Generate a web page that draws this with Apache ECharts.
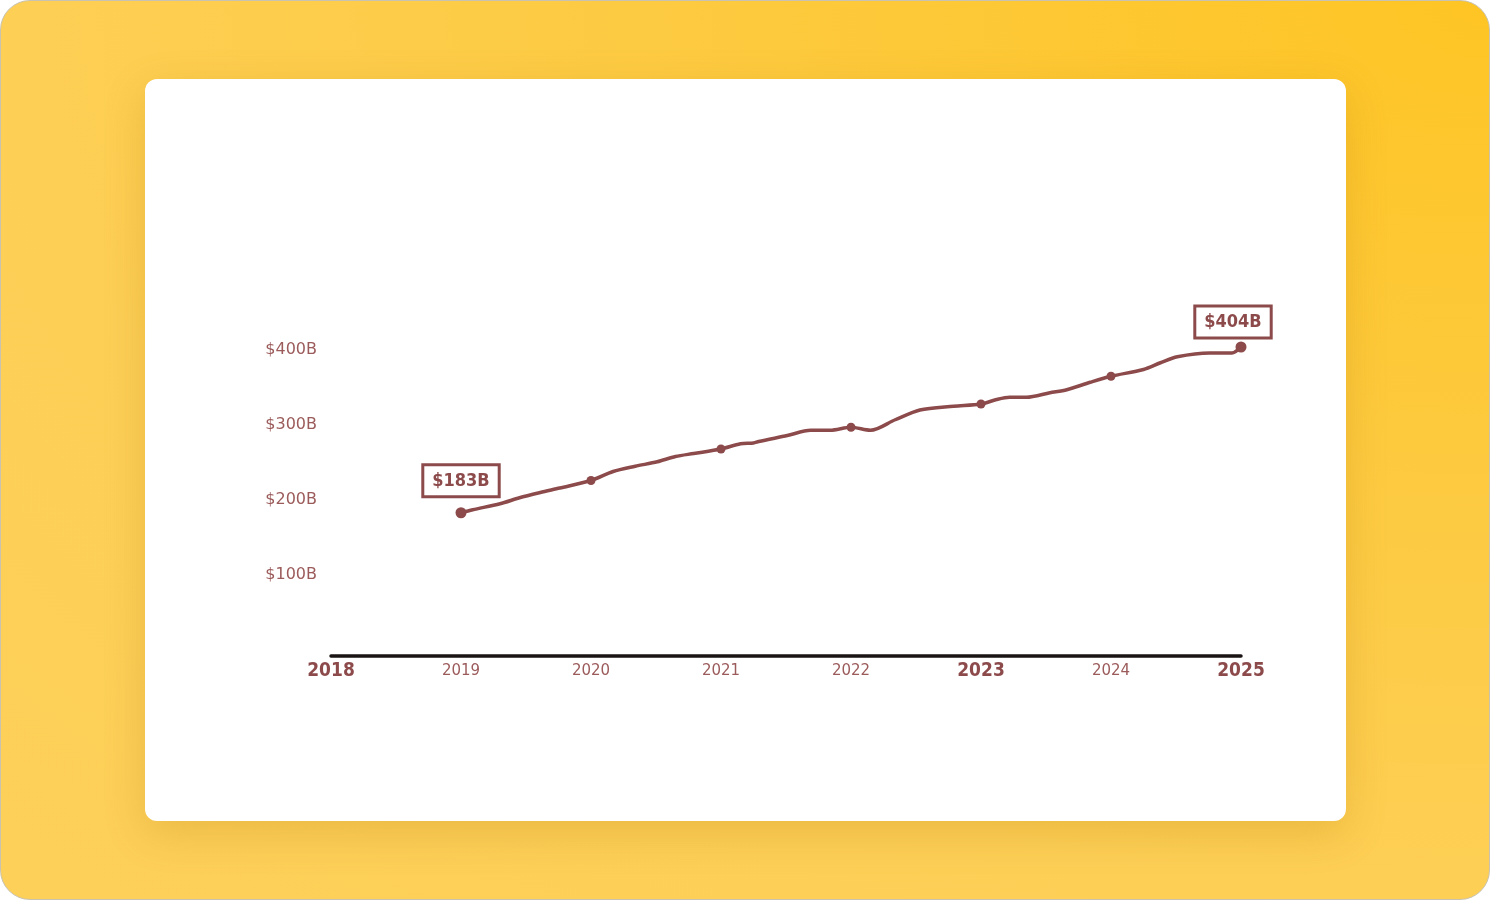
<!DOCTYPE html>
<html>
<head>
<meta charset="utf-8">
<script src="https://cdn.jsdelivr.net/npm/echarts@6/dist/echarts.min.js"></script>
<style>
  html, body { margin: 0; padding: 0; width: 1490px; height: 900px; background: #ffffff; overflow: hidden; }
  #bg { position: absolute; left: 0; top: 0; width: 1488px; height: 898px; border: 1px solid #c9c2b0; border-radius: 30px;
        background: radial-gradient(ellipse at 100% 0%, #fec524 0%, #fdca3e 35%, #fdcf55 70%, #fdd05a 100%); }
  #card { position: absolute; left: 145px; top: 79px; width: 1201px; height: 742px; background: #ffffff; border-radius: 12px;
          box-shadow: 0 12px 40px rgba(170, 110, 0, 0.22); }
  #chart { position: absolute; left: 0; top: 0; width: 1490px; height: 900px; }
</style>
</head>
<body>
<div id="bg"></div>
<div id="card"></div>
<div id="chart"></div>
<script>
// Milestone points (yearly)
const years = [2019, 2020, 2021, 2022, 2023, 2024, 2025];
const revenue = [183, 226, 268, 297, 328, 365, 404];
// Hand-drawn path
const pathYears = [2019, 2019.09, 2019.3, 2019.45, 2019.61, 2019.76, 2020, 2020.17, 2020.34, 2020.51, 2020.65, 2020.79,
  2021, 2021.15, 2021.25, 2021.29, 2021.51, 2021.69, 2021.84, 2022, 2022.15, 2022.34, 2022.53, 2022.79,
  2023, 2023.12, 2023.22, 2023.35, 2023.53, 2023.66, 2023.84, 2024, 2024.25, 2024.38, 2024.51, 2024.76, 2024.93, 2025];
const pathValues = [183, 187, 195, 203, 210, 216, 226, 238, 245, 251, 258, 262,
  268, 275, 276, 278, 286, 293, 293, 297, 293, 307, 320, 325,
  328, 334, 337, 337, 343, 347, 357, 365, 374, 383, 391, 396, 396, 404];
// Axis labels
const xTickYears = [2018, 2019, 2020, 2021, 2022, 2023, 2024, 2025];
const boldYears = [2018, 2023, 2025];
const yTicks = [100, 200, 300, 400];
const labeledYears = [2019, 2025];

const lineColor = '#8c4a4b';
const textColor = '#9c5b5b';

const chart = echarts.init(document.getElementById('chart'), null, { renderer: 'canvas' });

const scatterData = years.map((y, i) => {
  const item = { value: [y, revenue[i]], symbolSize: (labeledYears.includes(y) ? 11 : 9) };
  if (labeledYears.includes(y)) {
    item.label = {
      show: true,
      position: 'top',
      distance: y === 2025 ? 5 : 12,
      offset: y === 2025 ? [-8, 0] : [0, 0],
      formatter: '$' + revenue[i] + 'B',
      fontFamily: '"DejaVu Sans Condensed", "DejaVu Sans", sans-serif',
      fontWeight: 'bold',
      fontSize: 18,
      color: lineColor,
      backgroundColor: '#ffffff',
      borderColor: lineColor,
      borderWidth: 3,
      padding: [6, 8, 5, 8]
    };
  }
  return item;
});

chart.setOption({
  animation: false,
  backgroundColor: 'transparent',
  grid: { left: 331, right: 249, top: 275, bottom: 250, containLabel: false },
  xAxis: {
    type: 'value',
    min: 2018,
    max: 2025,
    interval: 1,
    offset: 6,
    axisLine: { show: true, onZero: false, lineStyle: { color: '#1a1414', width: 3.5 } },
    axisTick: { show: false },
    splitLine: { show: false },
    axisLabel: {
      margin: 6,
      formatter: v => (xTickYears.includes(v) ? (boldYears.includes(v) ? '{b|' + v + '}' : '{n|' + v + '}') : ''),
      rich: {
        n: { fontFamily: '"DejaVu Sans", sans-serif', fontSize: 15, color: textColor, padding: [2, 0, 0, 0] },
        b: { fontFamily: '"DejaVu Sans Condensed", "DejaVu Sans", sans-serif', fontWeight: 'bold', fontSize: 19, color: lineColor }
      }
    }
  },
  yAxis: {
    type: 'value',
    min: 0,
    max: 500,
    interval: 100,
    axisLine: { show: false },
    axisTick: { show: false },
    splitLine: { show: false },
    axisLabel: {
      margin: 14,
      fontFamily: '"DejaVu Sans", sans-serif',
      fontSize: 16,
      color: textColor,
      formatter: v => (yTicks.includes(v) ? '$' + v + 'B' : '')
    }
  },
  series: [
    {
      type: 'line',
      data: pathYears.map((y, i) => [y, pathValues[i]]),
      smooth: 0.3,
      showSymbol: false,
      lineStyle: { color: lineColor, width: 3.5, cap: 'round', join: 'round' },
      z: 2
    },
    {
      type: 'scatter',
      data: scatterData,
      itemStyle: { color: lineColor, opacity: 1 },
      z: 3
    }
  ]
});
</script>
</body>
</html>
